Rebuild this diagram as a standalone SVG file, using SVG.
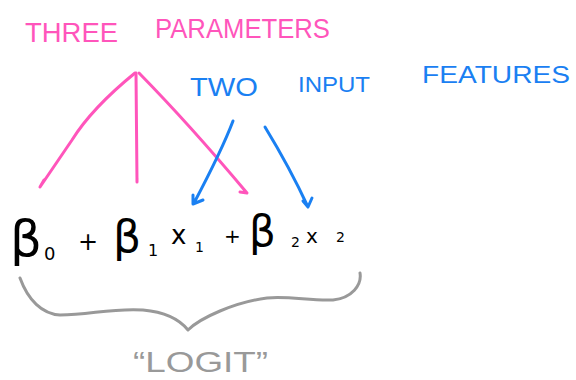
<svg xmlns="http://www.w3.org/2000/svg" width="576" height="380" viewBox="0 0 576 380">
<style>
.pink{fill:#ff55bb;font-family:"Liberation Sans",sans-serif;}
.blue{fill:#1a80f2;font-family:"Liberation Sans",sans-serif;}
.eq{fill:#000;font-family:"DejaVu Sans","Liberation Sans",sans-serif;}
.gray{fill:#999;font-family:"Liberation Sans",sans-serif;}
.pa{fill:none;stroke:#ff55bb;stroke-width:3;stroke-linecap:round;stroke-linejoin:round;}
.ba{fill:none;stroke:#1a80f2;stroke-width:3;stroke-linecap:round;stroke-linejoin:round;}
.br{fill:none;stroke:#999;stroke-width:3;stroke-linecap:round;stroke-linejoin:round;}
</style>
<rect width="576" height="380" fill="#fff"/>
<g id="three-parameters">
<text class="pink" x="25" y="42" font-size="27" textLength="93" lengthAdjust="spacingAndGlyphs">THREE</text>
<text class="pink" x="155" y="38" font-size="27" textLength="175" lengthAdjust="spacingAndGlyphs">PARAMETERS</text>
</g>
<g id="two-input-features">
<text class="blue" x="190" y="96" font-size="25" textLength="68" lengthAdjust="spacingAndGlyphs">TWO</text>
<text class="blue" x="298" y="92" font-size="22" textLength="72" lengthAdjust="spacingAndGlyphs">INPUT</text>
<text class="blue" x="422" y="83" font-size="24" textLength="148" lengthAdjust="spacingAndGlyphs">FEATURES</text>
</g>
<g id="equation">
<text class="eq" x="10" y="256" font-size="50">β</text>
<text class="eq" x="44" y="260" font-size="18">0</text>
<text class="eq" x="78" y="250" font-size="24">+</text>
<text class="eq" x="113" y="252" font-size="44">β</text>
<text class="eq" x="148" y="256" font-size="16">1</text>
<text class="eq" x="171" y="244" font-size="26">x</text>
<text class="eq" x="195" y="252" font-size="14">1</text>
<text class="eq" x="224" y="243" font-size="20">+</text>
<text class="eq" x="249" y="246" font-size="42">β</text>
<text class="eq" x="291" y="247" font-size="14">2</text>
<text class="eq" x="306" y="243" font-size="20">x</text>
<text class="eq" x="336" y="242" font-size="14">2</text>
</g>
<g id="logit">
<path class="br" d="M20,278 C28,300 42,314 60,315 C90,315 110,308 143,310 C165,312 180,320 188,330 M188,330 C200,318 235,302 267,298 C290,296 310,301 333,300 C352,298 362,285 360,273"/>
<text class="gray" x="133" y="372" font-size="30" textLength="135" lengthAdjust="spacingAndGlyphs">“LOGIT”</text>
</g>
<g id="connectors">
<path class="pa" d="M135,73 Q92,108 72,140 L40,187 M40,187 L44,180"/>
<path class="pa" d="M136,73 L137,182 M137,182 L137,178"/>
<path class="pa" d="M139,73 Q190,125 247,193 L240,192"/>
<path class="ba" d="M233,121 Q222,150 194,203 M193,195 L193,204 L203,200"/>
<path class="ba" d="M265,127 Q290,168 308,207 M303,201 L308,207 L312,198"/>
</g>
</svg>
